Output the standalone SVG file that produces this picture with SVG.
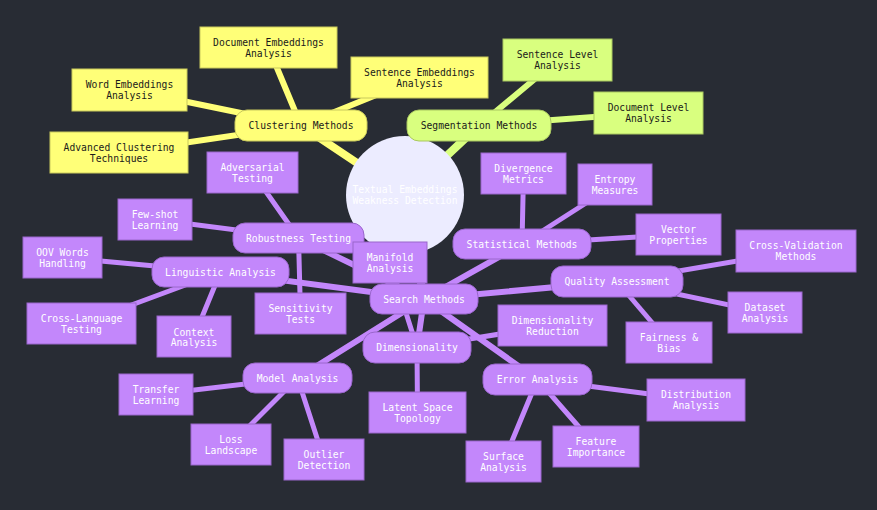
<svg xmlns="http://www.w3.org/2000/svg" width="877" height="510" viewBox="0 0 877 510">
<style>
text{font-family:"DejaVu Sans Mono","Liberation Mono",monospace;font-size:9.7px;text-anchor:middle;dominant-baseline:central}
.ey{stroke:#ffff78;fill:none;stroke-linecap:round}
.eg{stroke:#d9ff7f;fill:none;stroke-linecap:round}
.ep{stroke:#c387fb;fill:none;stroke-linecap:round}
.d1{stroke-width:8}
.d2{stroke-width:6}
.d3{stroke-width:5}
.ny rect{fill:#ffff78;stroke:#c9c95c;stroke-width:1}
.ng rect{fill:#d9ff7f;stroke:#a9c760;stroke-width:1}
.np rect{fill:#c387fb;stroke:#9a66cc;stroke-width:1}
.ny text,.ng text{fill:#1a1a1a}
.np text{fill:#ffffff}
</style>
<rect width="877" height="510" fill="#282c34"/>
<g id="connectors">
<line class="ey d1" x1="405" y1="195" x2="301" y2="125.5"/>
<line class="eg d1" x1="405" y1="195" x2="479" y2="125.5"/>
<line class="ep d1" x1="405" y1="195" x2="424" y2="299"/>
<line class="ey d2" x1="301" y1="125.5" x2="268.5" y2="47.5"/>
<line class="ey d2" x1="301" y1="125.5" x2="419.5" y2="77.5"/>
<line class="ey d2" x1="301" y1="125.5" x2="129.5" y2="90"/>
<line class="ey d2" x1="301" y1="125.5" x2="119" y2="152.5"/>
<line class="eg d2" x1="479" y1="125.5" x2="557.5" y2="60"/>
<line class="eg d2" x1="479" y1="125.5" x2="648.5" y2="113"/>
<line class="ep d2" x1="424" y1="299" x2="522" y2="244"/>
<line class="ep d2" x1="424" y1="299" x2="617" y2="281.5"/>
<line class="ep d2" x1="424" y1="299" x2="537.5" y2="379.5"/>
<line class="ep d2" x1="424" y1="299" x2="417" y2="347.5"/>
<line class="ep d2" x1="424" y1="299" x2="297.5" y2="378"/>
<line class="ep d2" x1="424" y1="299" x2="220.5" y2="272"/>
<line class="ep d2" x1="424" y1="299" x2="298.5" y2="238"/>
<line class="ep d3" x1="522" y1="244" x2="523.5" y2="173.5"/>
<line class="ep d3" x1="522" y1="244" x2="615" y2="184.5"/>
<line class="ep d3" x1="522" y1="244" x2="678.5" y2="234.5"/>
<line class="ep d3" x1="617" y1="281.5" x2="796" y2="251"/>
<line class="ep d3" x1="617" y1="281.5" x2="765" y2="312.5"/>
<line class="ep d3" x1="617" y1="281.5" x2="669" y2="342.5"/>
<line class="ep d3" x1="537.5" y1="379.5" x2="696" y2="400"/>
<line class="ep d3" x1="537.5" y1="379.5" x2="596" y2="446.5"/>
<line class="ep d3" x1="537.5" y1="379.5" x2="503.5" y2="461.5"/>
<line class="ep d3" x1="417" y1="347.5" x2="552.5" y2="325.5"/>
<line class="ep d3" x1="417" y1="347.5" x2="417.5" y2="412.5"/>
<line class="ep d3" x1="417" y1="347.5" x2="390" y2="262.5"/>
<line class="ep d3" x1="297.5" y1="378" x2="156" y2="394.5"/>
<line class="ep d3" x1="297.5" y1="378" x2="231" y2="444.5"/>
<line class="ep d3" x1="297.5" y1="378" x2="324" y2="459.5"/>
<line class="ep d3" x1="220.5" y1="272" x2="62.5" y2="257.5"/>
<line class="ep d3" x1="220.5" y1="272" x2="81.5" y2="323.5"/>
<line class="ep d3" x1="220.5" y1="272" x2="194" y2="336.5"/>
<line class="ep d3" x1="298.5" y1="238" x2="300.5" y2="313.5"/>
<line class="ep d3" x1="298.5" y1="238" x2="155" y2="219.5"/>
<line class="ep d3" x1="298.5" y1="238" x2="252.5" y2="172.5"/>
</g>
<g id="root"><circle cx="405" cy="195" r="59" fill="#ececff"/><text x="405" y="189.5" fill="#ffffff">Textual Embeddings</text><text x="405" y="200.5" fill="#ffffff">Weakness Detection</text></g>
<g id="clustering" class="ny"><rect x="235" y="110" width="132" height="31" rx="12"/><text x="301" y="125.5">Clustering Methods</text></g>
<g id="doc-emb" class="ny"><rect x="200" y="27" width="137" height="41"/><text x="268.5" y="42">Document Embeddings</text><text x="268.5" y="53">Analysis</text></g>
<g id="sent-emb" class="ny"><rect x="351" y="57" width="137" height="41"/><text x="419.5" y="72">Sentence Embeddings</text><text x="419.5" y="83">Analysis</text></g>
<g id="word-emb" class="ny"><rect x="72" y="69" width="115" height="42"/><text x="129.5" y="84.5">Word Embeddings</text><text x="129.5" y="95.5">Analysis</text></g>
<g id="adv-clust" class="ny"><rect x="50" y="132" width="138" height="41"/><text x="119" y="147">Advanced Clustering</text><text x="119" y="158">Techniques</text></g>
<g id="segmentation" class="ng"><rect x="407" y="110" width="144" height="31" rx="12"/><text x="479" y="125.5">Segmentation Methods</text></g>
<g id="sent-level" class="ng"><rect x="503" y="39" width="109" height="42"/><text x="557.5" y="54.5">Sentence Level</text><text x="557.5" y="65.5">Analysis</text></g>
<g id="doc-level" class="ng"><rect x="594" y="92" width="109" height="42"/><text x="648.5" y="107.5">Document Level</text><text x="648.5" y="118.5">Analysis</text></g>
<g id="search" class="np"><rect x="370" y="284" width="108" height="30" rx="12"/><text x="424" y="299">Search Methods</text></g>
<g id="statistical" class="np"><rect x="453" y="229" width="138" height="30" rx="12"/><text x="522" y="244">Statistical Methods</text></g>
<g id="quality" class="np"><rect x="551" y="266" width="132" height="31" rx="12"/><text x="617" y="281.5">Quality Assessment</text></g>
<g id="error" class="np"><rect x="483" y="364" width="109" height="31" rx="12"/><text x="537.5" y="379.5">Error Analysis</text></g>
<g id="dimensionality" class="np"><rect x="363" y="332" width="108" height="31" rx="12"/><text x="417" y="347.5">Dimensionality</text></g>
<g id="model" class="np"><rect x="243" y="363" width="109" height="30" rx="12"/><text x="297.5" y="378">Model Analysis</text></g>
<g id="linguistic" class="np"><rect x="152" y="257" width="137" height="30" rx="12"/><text x="220.5" y="272">Linguistic Analysis</text></g>
<g id="robustness" class="np"><rect x="233" y="223" width="131" height="30" rx="12"/><text x="298.5" y="238">Robustness Testing</text></g>
<g id="divergence" class="np"><rect x="481" y="153" width="85" height="41"/><text x="523.5" y="168">Divergence</text><text x="523.5" y="179">Metrics</text></g>
<g id="entropy" class="np"><rect x="578" y="164" width="74" height="41"/><text x="615" y="179.5">Entropy</text><text x="615" y="190">Measures</text></g>
<g id="vector" class="np"><rect x="636" y="214" width="85" height="41"/><text x="678.5" y="229">Vector</text><text x="678.5" y="240">Properties</text></g>
<g id="crossval" class="np"><rect x="736" y="230" width="120" height="42"/><text x="796" y="245.5">Cross-Validation</text><text x="796" y="256.5">Methods</text></g>
<g id="dataset" class="np"><rect x="728" y="292" width="74" height="41"/><text x="765" y="307">Dataset</text><text x="765" y="318">Analysis</text></g>
<g id="fairness" class="np"><rect x="626" y="322" width="86" height="41"/><text x="669" y="337">Fairness &amp;</text><text x="669" y="348">Bias</text></g>
<g id="dimred" class="np"><rect x="498" y="305" width="109" height="41"/><text x="552.5" y="320">Dimensionality</text><text x="552.5" y="331">Reduction</text></g>
<g id="distribution" class="np"><rect x="647" y="379" width="98" height="42"/><text x="696" y="394.5">Distribution</text><text x="696" y="405.5">Analysis</text></g>
<g id="feature" class="np"><rect x="553" y="426" width="86" height="41"/><text x="596" y="441">Feature</text><text x="596" y="452">Importance</text></g>
<g id="surface" class="np"><rect x="466" y="441" width="75" height="41"/><text x="503.5" y="456">Surface</text><text x="503.5" y="467">Analysis</text></g>
<g id="latent" class="np"><rect x="369" y="392" width="97" height="41"/><text x="417.5" y="407.5">Latent Space</text><text x="417.5" y="418">Topology</text></g>
<g id="manifold" class="np"><rect x="353" y="242" width="74" height="41"/><text x="390" y="257.5">Manifold</text><text x="390" y="268">Analysis</text></g>
<g id="transfer" class="np"><rect x="119" y="374" width="74" height="41"/><text x="156" y="389">Transfer</text><text x="156" y="400">Learning</text></g>
<g id="loss" class="np"><rect x="191" y="424" width="80" height="41"/><text x="231" y="439">Loss</text><text x="231" y="450">Landscape</text></g>
<g id="outlier" class="np"><rect x="284" y="439" width="80" height="41"/><text x="324" y="454.5">Outlier</text><text x="324" y="465">Detection</text></g>
<g id="sensitivity" class="np"><rect x="255" y="293" width="91" height="41"/><text x="300.5" y="308">Sensitivity</text><text x="300.5" y="319">Tests</text></g>
<g id="context" class="np"><rect x="157" y="316" width="74" height="41"/><text x="194" y="332">Context</text><text x="194" y="342">Analysis</text></g>
<g id="crosslang" class="np"><rect x="27" y="303" width="109" height="41"/><text x="81.5" y="318">Cross-Language</text><text x="81.5" y="329">Testing</text></g>
<g id="oov" class="np"><rect x="23" y="237" width="79" height="41"/><text x="62.5" y="252">OOV Words</text><text x="62.5" y="263">Handling</text></g>
<g id="fewshot" class="np"><rect x="118" y="199" width="74" height="41"/><text x="155" y="214">Few-shot</text><text x="155" y="225">Learning</text></g>
<g id="adversarial" class="np"><rect x="207" y="152" width="91" height="41"/><text x="252.5" y="167">Adversarial</text><text x="252.5" y="178">Testing</text></g>
</svg>
